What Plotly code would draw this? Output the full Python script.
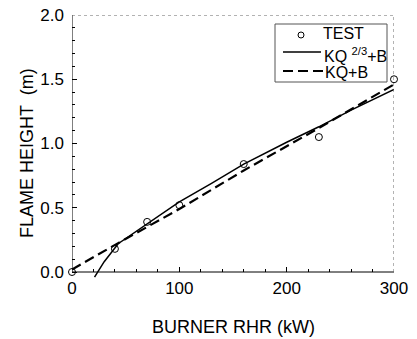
import plotly.graph_objects as go

# ---- data ----
test_q = [0, 40, 70, 100, 160, 230, 300]
test_h = [0.00, 0.18, 0.39, 0.52, 0.84, 1.05, 1.50]

kq23_q = [21, 30, 43, 69, 100, 130, 160, 200, 230, 260, 300]
kq23_h = [-0.04, 0.08, 0.22, 0.37, 0.545, 0.69, 0.84, 1.01, 1.13, 1.26, 1.42]

kq_q = [0, 43, 100, 160, 230, 300]
kq_h = [0.02, 0.225, 0.49, 0.79, 1.12, 1.46]

x_ticks = [0, 100, 200, 300]
y_ticks = [0.0, 0.5, 1.0, 1.5, 2.0]

W, H = 417, 339
L, R, T, B = 72, 23, 15, 61
PW, PH = W - L - R, H - T - B
Y0PX = 272  # pixel row of y=0
ymin = -(T + PH - Y0PX) / ((Y0PX - T) / 2.0)


def px(x):
    return (x - L) / PW


def py(y):
    return (T + PH - y) / PH


FONT = "Arial, 'Liberation Sans', Helvetica, sans-serif"

fig = go.Figure()
fig.add_trace(go.Scatter(x=kq23_q, y=kq23_h, mode="lines",
                         line=dict(color="black", width=1.5),
                         showlegend=False))
fig.add_trace(go.Scatter(x=kq_q, y=kq_h, mode="lines",
                         line=dict(color="black", width=2.2, dash="10px,5px"),
                         showlegend=False))
fig.add_trace(go.Scatter(x=test_q, y=test_h, mode="markers",
                         marker=dict(symbol="circle-open", size=7,
                                     color="black", line=dict(width=1)),
                         cliponaxis=False, showlegend=False))

shapes = [
    dict(type="line", xref="x", yref="y", x0=0, x1=0, y0=0, y1=2,
         line=dict(color="black", width=1)),
    dict(type="line", xref="x", yref="y", x0=0, x1=300, y0=0, y1=0,
         line=dict(color="black", width=1)),
    dict(type="line", xref="x", yref="y", x0=0, x1=300, y0=2, y1=2,
         line=dict(color="#666", width=1, dash="dot")),
    dict(type="line", xref="x", yref="y", x0=300, x1=300, y0=0, y1=2,
         line=dict(color="#666", width=1, dash="dot")),
    # legend box
    dict(type="rect", xref="paper", yref="paper",
         x0=px(275), x1=px(387), y0=py(82), y1=py(24),
         line=dict(color="#555", width=1), fillcolor="white"),
    dict(type="circle", xref="paper", yref="paper",
         x0=px(298), x1=px(304), y0=py(38), y1=py(32),
         line=dict(color="black", width=1)),
    dict(type="line", xref="paper", yref="paper",
         x0=px(283), x1=px(321), y0=py(52), y1=py(52),
         line=dict(color="black", width=1.5)),
    dict(type="line", xref="paper", yref="paper",
         x0=px(283), x1=px(323), y0=py(71), y1=py(71),
         line=dict(color="black", width=2.2, dash="10px,5px")),
]

annotations = [
    dict(text="TEST", xref="paper", yref="paper", x=px(321), y=py(34),
         xanchor="left", yanchor="middle", showarrow=False,
         font=dict(size=16, color="black", family=FONT)),
    dict(text="KQ <sup>2/3</sup>+B", xref="paper", yref="paper", x=px(322), y=py(55),
         xanchor="left", yanchor="middle", showarrow=False,
         font=dict(size=16, color="black", family=FONT)),
    dict(text="KQ+B", xref="paper", yref="paper", x=px(323), y=py(72),
         xanchor="left", yanchor="middle", showarrow=False,
         font=dict(size=16, color="black", family=FONT)),
    dict(text="BURNER RHR (kW)", xref="paper", yref="paper", x=px(234), y=py(327),
         xanchor="center", yanchor="middle", showarrow=False,
         font=dict(size=18, color="black", family=FONT)),
    dict(text="FLAME HEIGHT  (m)", xref="paper", yref="paper", x=px(27), y=py(153),
         xanchor="center", yanchor="middle", showarrow=False, textangle=-90,
         font=dict(size=18, color="black", family=FONT)),
]

fig.update_layout(
    template="none",
    width=W, height=H,
    margin=dict(l=L, r=R, t=T, b=B, pad=0, autoexpand=False),
    plot_bgcolor="white", paper_bgcolor="white",
    font=dict(family=FONT, size=17, color="black"),
    shapes=shapes, annotations=annotations,
    xaxis=dict(range=[0, 300], tickvals=x_ticks, ticktext=[str(v) for v in x_ticks],
               ticks="inside", ticklen=5, tickcolor="black", showgrid=False,
               zeroline=False, showline=False, anchor="free", position=py(Y0PX),
               ticklabelstandoff=4, automargin=False,
               minor=dict(dtick=20, tick0=0, ticks="inside", ticklen=3,
                          tickcolor="black", showgrid=False)),
    yaxis=dict(range=[ymin, 2.0], tickvals=y_ticks,
               ticktext=["%.1f" % v for v in y_ticks],
               ticks="inside", ticklen=5, tickcolor="black", showgrid=False,
               zeroline=False, showline=False, ticklabelstandoff=7, automargin=False,
               minor=dict(dtick=0.1, tick0=0, ticks="inside", ticklen=3,
                          tickcolor="black", showgrid=False)),
)

fig.write_html(
    "out.html",
    config={"displayModeBar": False},
    post_script="document.body.style.margin='0';document.body.style.padding='0';"
                "document.body.style.overflow='hidden';",
)
